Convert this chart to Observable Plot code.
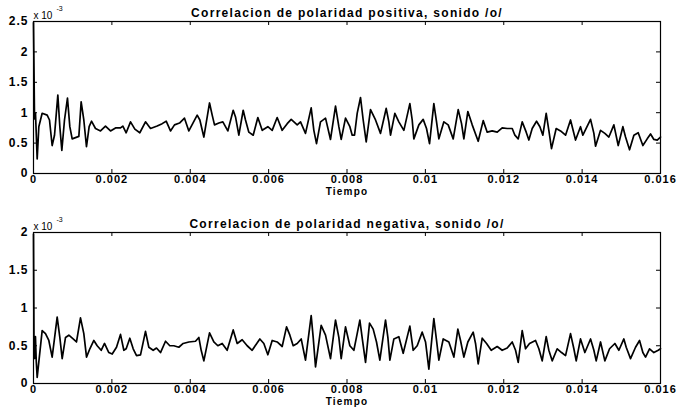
<!DOCTYPE html>
<html><head><meta charset="utf-8">
<script src="https://cdn.jsdelivr.net/npm/d3@7"></script>
<script src="https://cdn.jsdelivr.net/npm/@observablehq/plot@0.6"></script>
<style>
body{margin:0;background:#fff;}
#chart{width:678px;height:413px;overflow:hidden;}
#chart svg{display:block;}
#chart g[aria-description="title"] text{letter-spacing:1.3px;}
#chart g[aria-label="x-axis tick label"] text{letter-spacing:1px;}
#chart g[aria-label="y-axis tick label"] text{letter-spacing:1px;}
#chart g[aria-description="xlabel"] text{letter-spacing:1.2px;}
</style>
</head><body><div id="chart"></div>
<script>
// Tiempo in milliseconds; correlation values in units of 10^-3
const tiempoPosMs = [0,0.026,0.051,0.094,0.136,0.221,0.349,0.408,0.476,0.536,0.621,0.672,0.723,0.791,0.867,0.927,0.987,1.072,1.157,1.216,1.284,1.352,1.420,1.480,1.582,1.710,1.837,1.965,2.093,2.220,2.280,2.365,2.476,2.586,2.713,2.858,2.986,3.156,3.283,3.386,3.496,3.598,3.726,3.853,3.964,4.177,4.245,4.347,4.492,4.560,4.619,4.730,4.832,4.959,5.096,5.155,5.240,5.351,5.410,5.495,5.606,5.725,5.836,5.980,6.091,6.218,6.346,6.474,6.576,6.729,6.814,6.941,7.086,7.154,7.222,7.324,7.452,7.579,7.707,7.792,7.852,7.962,8.073,8.133,8.192,8.260,8.345,8.413,8.490,8.600,8.728,8.855,9.000,9.068,9.111,9.221,9.323,9.451,9.604,9.664,9.706,9.834,9.944,10.029,10.106,10.216,10.285,10.344,10.472,10.582,10.710,10.838,10.923,10.982,11.084,11.195,11.348,11.476,11.578,11.705,11.833,11.960,12.088,12.216,12.284,12.369,12.471,12.573,12.641,12.726,12.837,12.922,12.998,13.083,13.151,13.219,13.338,13.449,13.577,13.704,13.832,13.959,14.019,14.215,14.300,14.342,14.470,14.580,14.683,14.810,14.921,15.040,15.108,15.210,15.321,15.431,15.550,15.661,15.746,15.831,15.916,16.0];
const corrPos = [2.48,0.90,0.99,0.24,0.77,0.99,0.96,0.88,0.46,0.63,1.29,0.77,0.38,0.88,1.24,0.77,0.57,0.59,0.61,1.18,0.88,0.44,0.77,0.86,0.74,0.70,0.78,0.70,0.75,0.75,0.78,0.67,0.85,0.73,0.67,0.85,0.74,0.78,0.82,0.86,0.70,0.80,0.83,0.91,0.70,0.96,0.88,0.60,1.16,0.96,0.80,0.83,0.85,0.70,1.04,0.93,0.63,1.04,0.88,0.68,0.63,0.92,0.71,0.77,0.71,0.92,0.71,0.82,0.89,0.80,0.85,0.66,1.08,0.71,0.49,0.85,0.91,0.56,1.11,0.77,0.56,0.91,0.77,0.63,0.63,0.99,1.25,0.88,0.52,1.05,0.88,0.66,1.07,0.85,0.63,0.99,0.85,0.71,1.15,0.88,0.57,0.80,0.89,0.74,0.49,1.15,0.85,0.57,0.85,0.80,0.57,1.05,0.82,0.57,1.02,0.80,0.53,0.87,0.68,0.70,0.68,0.75,0.74,0.74,0.63,0.57,0.85,0.68,0.55,0.74,0.86,0.77,0.63,0.99,0.71,0.41,0.74,0.70,0.63,0.88,0.55,0.77,0.63,0.89,0.66,0.45,0.71,0.66,0.60,0.80,0.46,0.77,0.60,0.39,0.63,0.67,0.46,0.57,0.65,0.56,0.55,0.60];

const tiempoNegMs = [0,0.012,0.030,0.050,0.070,0.094,0.221,0.306,0.391,0.476,0.604,0.672,0.732,0.817,0.902,1.012,1.097,1.199,1.284,1.353,1.438,1.540,1.625,1.727,1.812,1.922,2.008,2.118,2.220,2.305,2.365,2.458,2.544,2.629,2.731,2.858,2.943,3.054,3.139,3.241,3.369,3.479,3.581,3.709,3.819,3.964,4.134,4.219,4.279,4.347,4.492,4.602,4.704,4.815,4.942,5.096,5.198,5.325,5.453,5.580,5.776,5.878,5.980,6.091,6.218,6.346,6.457,6.542,6.627,6.729,6.831,6.941,7.086,7.137,7.197,7.341,7.452,7.579,7.707,7.792,7.852,7.962,8.073,8.175,8.260,8.328,8.396,8.473,8.575,8.668,8.753,8.838,8.983,9.043,9.094,9.196,9.323,9.434,9.604,9.689,9.791,9.919,10.004,10.089,10.216,10.285,10.344,10.455,10.599,10.727,10.829,10.897,10.982,11.084,11.220,11.280,11.348,11.450,11.561,11.680,11.833,11.960,12.088,12.216,12.301,12.369,12.471,12.556,12.658,12.811,12.896,12.981,13.083,13.151,13.236,13.364,13.475,13.577,13.704,13.789,13.849,13.959,14.070,14.215,14.300,14.359,14.470,14.580,14.700,14.836,14.938,15.065,15.125,15.235,15.363,15.465,15.550,15.618,15.720,15.831,15.942,16.0];
const corrNeg = [1.98,0.60,0.33,0.62,0.30,0.08,0.70,0.66,0.57,0.35,0.88,0.61,0.33,0.61,0.64,0.59,0.55,0.87,0.66,0.35,0.46,0.57,0.50,0.44,0.53,0.41,0.39,0.48,0.65,0.44,0.46,0.60,0.46,0.37,0.38,0.69,0.48,0.44,0.47,0.41,0.56,0.50,0.50,0.48,0.53,0.55,0.56,0.61,0.44,0.30,0.67,0.55,0.50,0.53,0.44,0.71,0.53,0.58,0.50,0.44,0.59,0.53,0.38,0.57,0.55,0.49,0.75,0.64,0.50,0.53,0.59,0.31,0.90,0.61,0.22,0.77,0.64,0.33,0.84,0.61,0.33,0.75,0.50,0.44,0.66,0.84,0.57,0.28,0.80,0.72,0.55,0.31,0.84,0.61,0.31,0.59,0.62,0.40,0.76,0.44,0.50,0.68,0.55,0.19,0.86,0.57,0.31,0.59,0.55,0.35,0.72,0.57,0.35,0.55,0.68,0.53,0.26,0.60,0.53,0.44,0.49,0.44,0.47,0.55,0.44,0.28,0.70,0.46,0.53,0.57,0.46,0.30,0.62,0.44,0.30,0.46,0.41,0.37,0.66,0.46,0.30,0.59,0.41,0.59,0.44,0.30,0.55,0.30,0.46,0.53,0.44,0.59,0.48,0.33,0.48,0.57,0.41,0.35,0.46,0.41,0.44,0.46];

const xTicks = [0,0.002,0.004,0.006,0.008,0.01,0.012,0.014,0.016];
const xTickLabels = ["0","0.002","0.004","0.006","0.008","0.01","0.012","0.014","0.016"];
const yTicksPos = [0,0.5,1,1.5,2,2.5];
const yTickLabelsPos = ["0","0.5","1","1.5","2","2.5"];
const yTicksNeg = [0,0.5,1,1.5,2];
const yTickLabelsNeg = ["0","0.5","1","1.5","2"];
const titlePos = "Correlacion de polaridad positiva, sonido /o/";
const titleNeg = "Correlacion de polaridad negativa, sonido /o/";
const xLabel = "Tiempo";
const expBase = "x 10";
const expSup = "-3";

const FONT = "'Liberation Sans', Arial, Helvetica, sans-serif";

function panel({t, v, yMax, yTicks, yLabels, title, height, marginTop, marginBottom}) {
  const data = t.map((tm, i) => ({t: tm / 1000, v: v[i]}));
  const marginLeft = 33, marginRight = 18, width = 678;
  const frameH = height - marginTop - marginBottom;
  const frameW = width - marginLeft - marginRight;
  const xLab = new Map(xTicks.map((d, i) => [d, xTickLabels[i]]));
  const yLab = new Map(yTicks.map((d, i) => [d, yLabels[i]]));
  return Plot.plot({
    width, height, marginTop, marginBottom, marginLeft, marginRight,
    style: {fontFamily: FONT, fontSize: "11px", background: "white", color: "black", overflow: "visible"},
    x: {domain: [0, 0.016]},
    y: {domain: [0, yMax]},
    marks: [
      Plot.line(data, {x: "t", y: "v", stroke: "black", strokeWidth: 1.7}),
      Plot.frame({stroke: "black", strokeWidth: 1.2}),
      Plot.ruleX(xTicks, {x: d => d, insetTop: frameH - 4, stroke: "black"}),
      Plot.ruleX(xTicks, {x: d => d, insetBottom: frameH - 4, stroke: "black"}),
      Plot.ruleY(yTicks, {y: d => d, insetRight: frameW - 4, stroke: "black"}),
      Plot.ruleY(yTicks, {y: d => d, insetLeft: frameW - 4, stroke: "black"}),
      Plot.axisX(xTicks, {tickSize: 0, tickPadding: 2, tickFormat: d => xLab.get(d), label: null, fontWeight: "bold", fontSize: 11}),
      Plot.axisY(yTicks, {tickSize: 0, tickPadding: 5, tickFormat: d => yLab.get(d), label: null, fontWeight: "bold", fontSize: 12}),
      Plot.text([title], {text: d => d, ariaDescription: "title", frameAnchor: "top", dy: -13, fontWeight: "bold", fontSize: 12}),
      Plot.text([expBase], {text: d => d, frameAnchor: "top-left", textAnchor: "start", dy: -10, fontSize: 10}),
      Plot.text([expSup], {text: d => d, frameAnchor: "top-left", textAnchor: "start", dx: 23, dy: -15, fontSize: 7}),
      Plot.text([xLabel], {text: d => d, ariaDescription: "xlabel", frameAnchor: "bottom", dy: 21, fontWeight: "bold", fontSize: 10})
    ]
  });
}

const chart = document.getElementById("chart");
chart.append(panel({t: tiempoPosMs, v: corrPos, yMax: 2.5, yTicks: yTicksPos, yLabels: yTickLabelsPos, title: titlePos, height: 200, marginTop: 21, marginBottom: 27}));
chart.append(panel({t: tiempoNegMs, v: corrNeg, yMax: 2, yTicks: yTicksNeg, yLabels: yTickLabelsNeg, title: titleNeg, height: 213, marginTop: 32, marginBottom: 30}));
</script>
</body></html>
